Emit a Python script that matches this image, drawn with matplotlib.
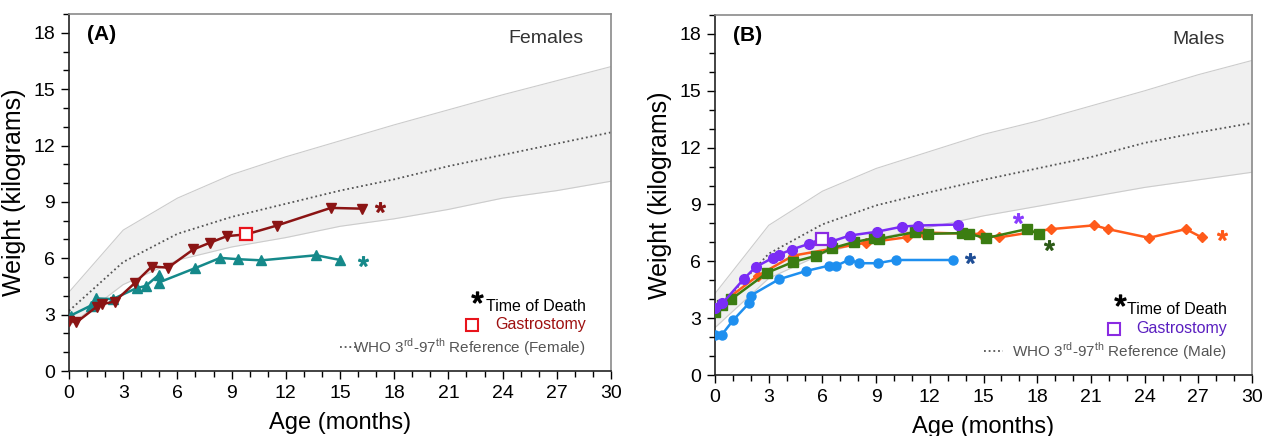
import matplotlib
matplotlib.use('Agg')
import matplotlib.pyplot as plt
from matplotlib.ticker import MultipleLocator

plt.rcParams['font.family'] = ['Liberation Sans', 'DejaVu Sans']
plt.rcParams['mathtext.fontset'] = 'custom'
plt.rcParams['mathtext.rm'] = 'Liberation Sans'

# WHO reference (3rd, 50th, 97th) every 3 months
who_age = [0, 3, 6, 9, 12, 15, 18, 21, 24, 27, 30]
who_f_lo = [2.4, 4.6, 5.9, 6.6, 7.1, 7.7, 8.1, 8.6, 9.2, 9.6, 10.1]
who_f_med = [3.2, 5.8, 7.3, 8.2, 8.9, 9.6, 10.2, 10.9, 11.5, 12.1, 12.7]
who_f_hi = [4.2, 7.5, 9.2, 10.45, 11.4, 12.25, 13.1, 13.9, 14.7, 15.45, 16.2]
who_m_lo = [2.5, 5.1, 6.4, 7.2, 7.8, 8.4, 8.9, 9.4, 9.9, 10.3, 10.7]
who_m_med = [3.35, 6.4, 7.95, 8.95, 9.65, 10.3, 10.9, 11.5, 12.25, 12.8, 13.3]
who_m_hi = [4.3, 7.9, 9.7, 10.9, 11.8, 12.7, 13.4, 14.2, 15.0, 15.85, 16.6]

# Females
f1_age = [0.0, 0.41, 1.53, 1.83, 2.52, 3.64, 4.58, 5.48, 6.88, 7.81, 8.75, 9.81, 11.5, 14.49, 16.22]
f1_wt = [2.68, 2.59, 3.42, 3.56, 3.69, 4.68, 5.56, 5.5, 6.47, 6.83, 7.18, 7.27, 7.74, 8.68, 8.64]
f1_gastro = (9.81, 7.27)
f1_death = (17.2, 8.75)

f2_age = [0.09, 1.21, 1.5, 2.43, 3.74, 4.26, 4.97, 4.97, 6.97, 8.37, 9.35, 10.65, 13.68, 15.0]
f2_wt = [2.95, 3.48, 3.86, 3.83, 4.41, 4.53, 5.12, 4.71, 5.47, 6.02, 5.95, 5.89, 6.16, 5.91]
f2_death = (16.3, 5.86)

# Males
m1_age = [0.0, 0.37, 1.02, 1.9, 1.99, 3.57, 5.09, 6.36, 6.78, 7.51, 8.03, 9.08, 10.09, 13.31]
m1_wt = [2.11, 2.11, 2.9, 3.79, 4.19, 5.05, 5.49, 5.77, 5.77, 6.09, 5.9, 5.9, 6.07, 6.07]
m1_death = (14.25, 6.16)

m2_age = [0.0, 0.41, 1.62, 2.27, 3.23, 3.57, 4.28, 5.24, 5.99, 6.49, 7.53, 9.03, 10.46, 11.36, 13.56]
m2_wt = [3.55, 3.78, 5.08, 5.7, 6.18, 6.35, 6.62, 6.92, 7.2, 7.04, 7.36, 7.56, 7.83, 7.89, 7.94]
m2_gastro = (5.99, 7.2)
m2_death = (16.91, 8.28)

m3_age = [0.0, 0.33, 2.39, 4.37, 8.42, 10.72, 11.6, 14.84, 15.86, 18.78, 21.19, 21.95, 24.25, 26.3, 27.2]
m3_wt = [3.5, 3.76, 5.24, 6.3, 6.98, 7.27, 7.52, 7.44, 7.26, 7.7, 7.9, 7.7, 7.24, 7.7, 7.26]
m3_death = (28.3, 7.4)

m4_age = [0.0, 0.41, 0.91, 2.92, 4.37, 5.65, 6.54, 7.75, 8.88, 9.18, 11.17, 11.92, 13.78, 14.21, 15.12, 17.41, 18.1]
m4_wt = [3.35, 3.7, 4.0, 5.4, 5.97, 6.29, 6.69, 7.01, 7.22, 7.18, 7.54, 7.45, 7.49, 7.45, 7.22, 7.7, 7.45]
m4_death = (18.66, 6.87)

C_MAROON = '#8b1414'
C_TEAL = '#15898a'
C_BLUE = '#1e8fef'
C_PURPLE = '#7a2cf5'
C_ORANGE = '#ff5a1a'
C_GREEN = '#3b7d12'


def setup_axes(ax, who_lo, who_med, who_hi, tag, title, gastro_color, gastro_text, sex):
    ax.fill_between(who_age, who_lo, who_hi, color='#f0f0f0', lw=0, zorder=0)
    ax.plot(who_age, who_lo, color='#cccccc', lw=0.8, zorder=1)
    ax.plot(who_age, who_hi, color='#cccccc', lw=0.8, zorder=1)
    ax.plot(who_age, who_med, color='#555555', lw=1.3, ls=(0, (1, 1.6)), zorder=1)

    ax.set_xlim(0, 30)
    ax.set_ylim(0, 19)
    ax.xaxis.set_major_locator(MultipleLocator(3))
    ax.xaxis.set_minor_locator(MultipleLocator(1))
    ax.yaxis.set_major_locator(MultipleLocator(3))
    ax.yaxis.set_minor_locator(MultipleLocator(1))
    ax.tick_params(which='major', direction='out', length=6, width=1, labelsize=14, pad=4)
    ax.tick_params(which='minor', direction='out', length=4, width=1)
    for s in ['left', 'bottom']:
        ax.spines[s].set_linewidth(1.2)
        ax.spines[s].set_color('#222222')
    for s in ['top', 'right']:
        ax.spines[s].set_linewidth(1.2)
        ax.spines[s].set_color('#8a8a8a')
    ax.set_xlabel('Age (months)', fontsize=17, labelpad=7)
    ax.set_ylabel('Weight (kilograms)', fontsize=18, labelpad=5)

    ax.text(1.0, 17.9, tag, fontsize=15, fontweight='bold', va='center', ha='left')
    ax.text(28.5, 17.7, title, fontsize=14, color='#333333', va='center', ha='right')

    # legend
    ax.plot([22.6], [3.95], marker='$*$', ms=8, color='black', ls='none')
    ax.text(28.6, 3.45, 'Time of Death', fontsize=11.5, ha='right', va='center')
    ax.plot([22.3], [2.45], marker='s', ms=8, mfc='white', mec=gastro_color, mew=1.5,
            ls='none', clip_on=False)
    ax.text(28.6, 2.45, 'Gastrostomy', fontsize=11.5, color=gastro_text, ha='right', va='center')
    ax.plot([15.0, 16.1], [1.28, 1.28], color='#555555', lw=1.3, ls=(0, (1, 1.6)))
    ax.text(28.6, 1.28, 'WHO 3$^{\\mathrm{rd}}$-97$^{\\mathrm{th}}$ Reference (' + sex + ')',
            fontsize=11, color='#555555', ha='right', va='center')


def series(ax, x, y, color, marker, ms, death, death_color=None):
    ax.plot(x, y, color=color, lw=1.8, marker=marker, ms=ms, zorder=3)
    ax.plot([death[0]], [death[1]], marker='$*$', ms=7, color=death_color or color,
            ls='none', zorder=3)


fig = plt.figure(figsize=(12.62, 4.36), dpi=100)
ax_a = fig.add_axes([69 / 1262, 65 / 436, 542 / 1262, 357 / 436])
ax_b = fig.add_axes([715 / 1262, 61 / 436, 537 / 1262, 360 / 436])

setup_axes(ax_a, who_f_lo, who_f_med, who_f_hi, '(A)', 'Females', '#e8141c', '#9e1010', 'Female')
setup_axes(ax_b, who_m_lo, who_m_med, who_m_hi, '(B)', 'Males', '#8a2be2', '#5a1fc0', 'Male')

# panel A
series(ax_a, f2_age, f2_wt, C_TEAL, '^', 7.5, f2_death)
f1_mask = [i for i in range(len(f1_age)) if (f1_age[i], f1_wt[i]) != f1_gastro]
series(ax_a, f1_age, f1_wt, C_MAROON, None, 0, f1_death)
ax_a.plot([f1_age[i] for i in f1_mask], [f1_wt[i] for i in f1_mask], color=C_MAROON,
          marker='v', ms=7.5, ls='none', zorder=4)
ax_a.plot([f1_gastro[0]], [f1_gastro[1]], marker='s', ms=9, mfc='white', mec='#e8141c',
          mew=1.6, ls='none', zorder=5)

# panel B
series(ax_b, m1_age, m1_wt, C_BLUE, 'o', 6.5, m1_death, '#1f4e96')
series(ax_b, m3_age, m3_wt, C_ORANGE, 'D', 5.5, m3_death)
series(ax_b, m4_age, m4_wt, C_GREEN, 's', 6.5, m4_death, '#2c5a16')
m2_mask = [i for i in range(len(m2_age)) if (m2_age[i], m2_wt[i]) != m2_gastro]
series(ax_b, m2_age, m2_wt, C_PURPLE, None, 0, m2_death, '#8a3cff')
ax_b.plot([m2_age[i] for i in m2_mask], [m2_wt[i] for i in m2_mask], color=C_PURPLE,
          marker='o', ms=7, ls='none', zorder=4)
ax_b.plot([m2_gastro[0]], [m2_gastro[1]], marker='s', ms=9, mfc='white', mec='#8a2be2',
          mew=1.6, ls='none', zorder=5)

fig.savefig('out.png', dpi=100)
